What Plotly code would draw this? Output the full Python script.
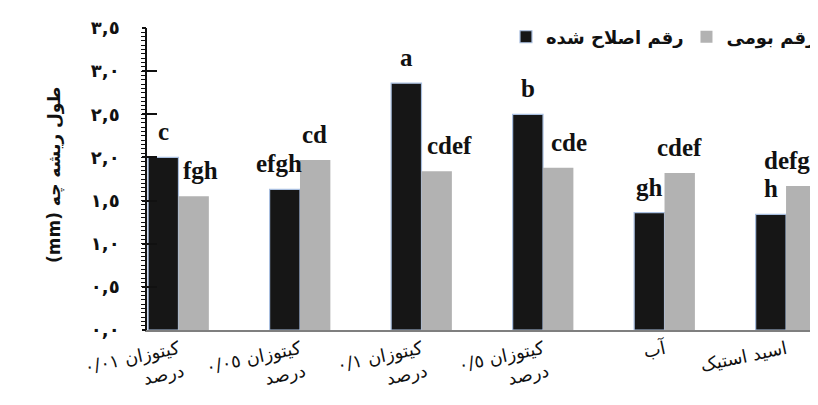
import plotly.graph_objects as go

categories = ["کیتوزان ٠/٠١<br>درصد", "کیتوزان ٠/٠٥<br>درصد", "کیتوزان ٠/١<br>درصد",
              "کیتوزان ٠/٥<br>درصد", "آب", "اسید استیک"]
improved = [2.00, 1.63, 2.86, 2.50, 1.36, 1.34]
native = [1.55, 1.97, 1.84, 1.88, 1.82, 1.67]
letters_improved = ["c", "efgh", "a", "b", "gh", "h"]
letters_native = ["fgh", "cd", "cdef", "cde", "cdef", "defg"]
series_names = ["رقم اصلاح شده", "رقم بومی"]
y_tickvals = [0, 0.5, 1, 1.5, 2, 2.5, 3, 3.5]
y_ticktext = ["٠,٠", "٠,٥", "١,٠", "١,٥", "٢,٠", "٢,٥", "٣,٠", "٣,٥"]
y_title = "طول ریشه چه (mm)"

# small horizontal nudges of the letter labels (px)
dx_improved = [0, -6, 0, 0, 0, 0]
dx_native = [7, 0, 13, 11, 0, -14]

RLE, PDF = "\u202b", "\u202c"

fig = go.Figure()
fig.add_trace(go.Bar(x=categories, y=improved, name=series_names[0], legend="legend",
                     marker=dict(color="#161616", line=dict(color="#a9bfe0", width=1.2))))
fig.add_trace(go.Bar(x=categories, y=native, name=series_names[1], legend="legend2",
                     marker=dict(color="#b2b2b2", line=dict(width=0))))

letter_font = dict(family="Liberation Serif", size=25, color="#111111")
half = 15
for i, c in enumerate(categories):
    fig.add_annotation(x=c, y=improved[i], text="<b>%s</b>" % letters_improved[i],
                       showarrow=False, xshift=-half + dx_improved[i], yshift=10,
                       yanchor="bottom", font=letter_font)
    fig.add_annotation(x=c, y=native[i], text="<b>%s</b>" % letters_native[i],
                       showarrow=False, xshift=half + dx_native[i], yshift=10,
                       yanchor="bottom", font=letter_font)

# y-axis title (right-to-left embedding so "(mm)" ends up at the bottom)
fig.add_annotation(xref="paper", yref="paper", x=0, y=0.513, xshift=-93,
                   xanchor="center", yanchor="middle", textangle=-90, showarrow=False,
                   text="<b>%s%s%s</b>" % (RLE, y_title, PDF),
                   font=dict(family="DejaVu Sans", size=17, color="#111111"))

legend_font = dict(family="DejaVu Sans", size=18, color="#111111", weight="bold")
# page body has an 8px margin: figure is sized/offset to fill the 818x405 window
fig.update_layout(
    width=810, height=397,
    margin=dict(l=139, r=0, t=20, b=75, autoexpand=False),
    paper_bgcolor="white", plot_bgcolor="white",
    barmode="group", bargap=0.5, bargroupgap=0,
    showlegend=True,
    legend=dict(orientation="h", x=0.535, y=0.97, xanchor="left", yanchor="middle",
                font=legend_font, bgcolor="rgba(0,0,0,0)"),
    legend2=dict(orientation="h", x=0.804, y=0.97, xanchor="left", yanchor="middle",
                 font=legend_font, bgcolor="rgba(0,0,0,0)"),
    xaxis=dict(range=[-0.259, 5.263], showgrid=False, zeroline=False,
               showline=True, linecolor="#7f7f7f", linewidth=2, ticks="",
               tickangle=-12, tickfont=dict(family="DejaVu Sans", size=18, color="#111111")),
    yaxis=dict(range=[0, 3.5], tickvals=y_tickvals, ticktext=y_ticktext,
               showgrid=False, zeroline=False, showline=True, linecolor="#111111", linewidth=1.5,
               ticks="inside", ticklen=10, tickwidth=1.5, tickcolor="#111111",
               ticklabelstandoff=22,
               minor=dict(dtick=0.05, ticks="outside", ticklen=4, tickwidth=1, tickcolor="#111111"),
               tickfont=dict(family="DejaVu Sans", size=18, color="#111111", weight="bold")),
    yaxis2=dict(range=[0, 3.5], overlaying="y", side="left", tickvals=y_tickvals,
                showticklabels=False, showgrid=False, zeroline=False, showline=False,
                ticks="outside", ticklen=4, tickwidth=1.5, tickcolor="#111111"),
    font=dict(family="DejaVu Sans"),
)
fig.add_trace(go.Scatter(x=[], y=[], yaxis="y2", showlegend=False, hoverinfo="skip"))

fig.write_html("out.html")
